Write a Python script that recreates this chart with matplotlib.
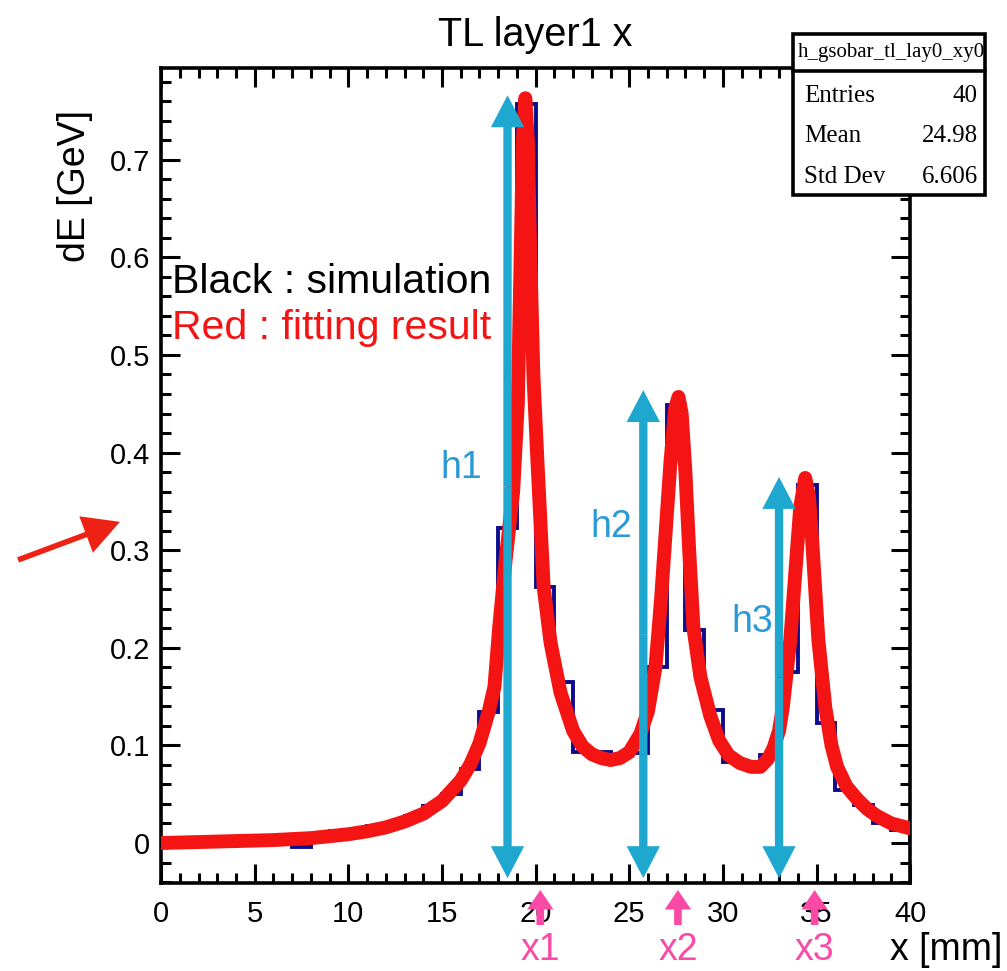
"""TL layer1 x: simulated dE profile with three-peak fit."""

import matplotlib
matplotlib.use("Agg")
import matplotlib.pyplot as plt
from matplotlib.patches import Rectangle
from matplotlib.ticker import MultipleLocator
import numpy as np

# ---- data ------------------------------------------------------------------
x_range = (0, 40)
n_bins = 40
sim_de = [0.001, 0.001, 0.002, 0.000, 0.001, 0.002, 0.001, -0.004, 0.004, 0.012,
          0.011, 0.017, 0.019, 0.028, 0.038, 0.050, 0.076, 0.134, 0.323, 0.757,
          0.262, 0.165, 0.093, 0.093, 0.088, 0.092, 0.180, 0.449, 0.218, 0.136,
          0.083, 0.080, 0.090, 0.175, 0.367, 0.123, 0.054, 0.039, 0.021, 0.013]

fit_x = [0, 2, 4, 6, 8, 10, 11, 12, 13, 14, 15, 16, 16.5, 17.0, 17.5, 17.8,
         18.05, 18.4, 18.8, 19.05, 19.2, 19.32, 19.45, 19.58, 19.72, 19.88,
         20.1, 20.27, 20.43, 20.8, 21.33, 22.0, 22.5, 23.0, 23.5, 24.0, 24.5,
         25.0, 25.6, 26.0, 26.4, 26.7, 26.95, 27.2, 27.45, 27.63, 27.8, 28.0,
         28.2, 28.43, 28.8, 29.33, 29.8, 30.3, 30.9, 31.5, 32.0, 32.4, 32.7,
         33.0, 33.2, 33.6, 33.87, 34.13, 34.4, 34.6, 34.77, 35.1, 35.47, 35.8,
         36.1, 36.6, 37.17, 37.7, 38.2, 39.0, 40.0]
fit_de = [0.000, 0.001, 0.002, 0.003, 0.005, 0.009, 0.012, 0.016, 0.022, 0.030,
          0.043, 0.064, 0.080, 0.102, 0.135, 0.160, 0.220, 0.290, 0.360, 0.450,
          0.600, 0.720, 0.763, 0.720, 0.600, 0.480, 0.390, 0.324, 0.262, 0.205,
          0.154, 0.115, 0.099, 0.091, 0.087, 0.085, 0.087, 0.093, 0.112, 0.135,
          0.180, 0.250, 0.320, 0.390, 0.445, 0.457, 0.440, 0.380, 0.300, 0.220,
          0.170, 0.130, 0.105, 0.090, 0.082, 0.078, 0.078, 0.086, 0.097, 0.115,
          0.139, 0.208, 0.277, 0.344, 0.374, 0.355, 0.310, 0.208, 0.139, 0.100,
          0.078, 0.058, 0.045, 0.035, 0.028, 0.020, 0.015]

height_labels = ["h1", "h2", "h3"]
height_x = [18.5, 25.75, 33.0]
height_top = [0.766, 0.464, 0.375]
height_label_x = [16.05, 24.05, 31.57]
height_label_y = [0.384, 0.324, 0.2265]

mean_labels = ["x1", "x2", "x3"]
mean_x = [20.25, 27.6, 34.9]

stats_name = "h_gsobar_tl_lay0_xy0"
stats_rows = [("Entries", "40"), ("Mean", "24.98"), ("Std Dev", "6.606")]

# ---- style ---------------------------------------------------------------
plt.rcParams["font.family"] = ["Liberation Sans", "DejaVu Sans"]
NAVY = "#0c0c8c"
RED = "#f41414"
CYAN = "#1ea8d0"
CYAN_TXT = "#2a9ad6"
PINK = "#fa4aa6"

fig = plt.figure(figsize=(10.07, 9.71), dpi=100)
ax = fig.add_axes([0.16, 0.0906, 0.7438, 0.8394])

edges = np.linspace(x_range[0], x_range[1], n_bins + 1)
ax.stairs(sim_de, edges, color=NAVY, lw=2.8, zorder=2)
ax.plot(fit_x, fit_de, color=RED, lw=10, solid_capstyle="round",
        solid_joinstyle="round", zorder=3)

ax.set_xlim(*x_range)
ax.set_ylim(-0.041, 0.794)
ax.xaxis.set_major_locator(MultipleLocator(5))
ax.xaxis.set_minor_locator(MultipleLocator(1))
ax.yaxis.set_major_locator(MultipleLocator(0.1))
ax.yaxis.set_minor_locator(MultipleLocator(0.02))
ax.yaxis.set_major_formatter(lambda v, p: f"{v:g}" if abs(v) > 1e-9 else "0")
ax.tick_params(which="both", direction="in", top=True, right=True,
               width=2.2, labelsize=21, color="black")
ax.tick_params(which="major", length=14)
ax.tick_params(which="minor", length=7)
ax.tick_params(axis="x", pad=12)
ax.tick_params(axis="y", pad=8)
for s in ax.spines.values():
    s.set_linewidth(2.6)

ax.set_title("TL layer1 x", fontsize=28.5, pad=16)
ax.text(-0.115, 0.948, "dE [GeV]", rotation=90, ha="center", va="top",
        fontsize=27, transform=ax.transAxes)
ax.text(0.973, -0.082, "x [mm]", ha="left", va="center", fontsize=27,
        transform=ax.transAxes, clip_on=False)

ax.text(0.014, 0.737, "Black : simulation", fontsize=29.5, ha="left",
        va="center", transform=ax.transAxes, zorder=6)
ax.text(0.014, 0.681, "Red : fitting result", fontsize=29.5, ha="left",
        va="center", color=RED, transform=ax.transAxes, zorder=6)

# peak-height double arrows
bottom_tip = -0.036
for x, top, lab, lx, ly in zip(height_x, height_top, height_labels,
                              height_label_x, height_label_y):
    mid = 0.5 * (top + bottom_tip)
    for tip in (top, bottom_tip):
        ax.annotate("", xy=(x, tip), xytext=(x, mid),
                    arrowprops=dict(arrowstyle="simple,head_length=2.3,head_width=2.4,tail_width=0.6",
                                    mutation_scale=10, fc=CYAN, ec="none", lw=0,
                                    shrinkA=0, shrinkB=0),
                    annotation_clip=False, zorder=5)
    ax.text(lx, ly, lab, color=CYAN_TXT, fontsize=27, ha="center",
            va="center", zorder=6)

# peak-position arrows under the axis
for x, lab in zip(mean_x, mean_labels):
    ax.annotate("", xy=(x, -0.0086), xytext=(x, -0.0515),
                xycoords=("data", "axes fraction"),
                textcoords=("data", "axes fraction"),
                arrowprops=dict(arrowstyle="simple,head_length=1.4,head_width=1.9,tail_width=0.55",
                                mutation_scale=10, fc=PINK, ec="none", lw=0,
                                shrinkA=0, shrinkB=0),
                annotation_clip=False, zorder=7)
    ax.text(x, -0.082, lab, color=PINK, fontsize=27, ha="center",
            va="center", transform=ax.get_xaxis_transform(), clip_on=False)

# red pointer on the left
ax.annotate("", xy=(-0.055, 0.329), xytext=(-0.191, 0.290),
            xycoords=("axes fraction", "data"), textcoords=("axes fraction", "data"),
            arrowprops=dict(arrowstyle="simple,head_length=2.6,head_width=2.8,tail_width=0.4",
                            mutation_scale=10, fc="#ee2214", ec="none", lw=0,
                            shrinkA=0, shrinkB=0),
            annotation_clip=False)

# stats box (ROOT style)
bx0, bx1, by0, by1 = 0.7875, 0.978, 0.799, 0.965
ysep = 1 - 71 / 971
box = Rectangle((bx0, by0), bx1 - bx0, by1 - by0, transform=fig.transFigure,
                fc="white", ec="black", lw=2.6, zorder=10)
fig.add_artist(box)
fig.add_artist(plt.Line2D([bx0, bx1], [ysep, ysep], transform=fig.transFigure,
                          color="black", lw=2.6, zorder=11))
t = fig.text(0.5 * (bx0 + bx1) + 0.002, 0.5 * (by1 + ysep), stats_name,
             family="Liberation Serif", fontsize=15, ha="center", va="center",
             zorder=11)
t.set_clip_path(box)
row_y = [1 - 96 / 971, 1 - 136 / 971, 1 - 177 / 971]
for (k, v), yy in zip(stats_rows, row_y):
    fig.text(bx0 + 0.011, yy, k, family="Liberation Serif", fontsize=18,
             ha="left", va="center", zorder=11)
    fig.text(bx1 - 0.007, yy, v, family="Liberation Serif", fontsize=18,
             ha="right", va="center", zorder=11)

fig.savefig("out.png", dpi=100)
